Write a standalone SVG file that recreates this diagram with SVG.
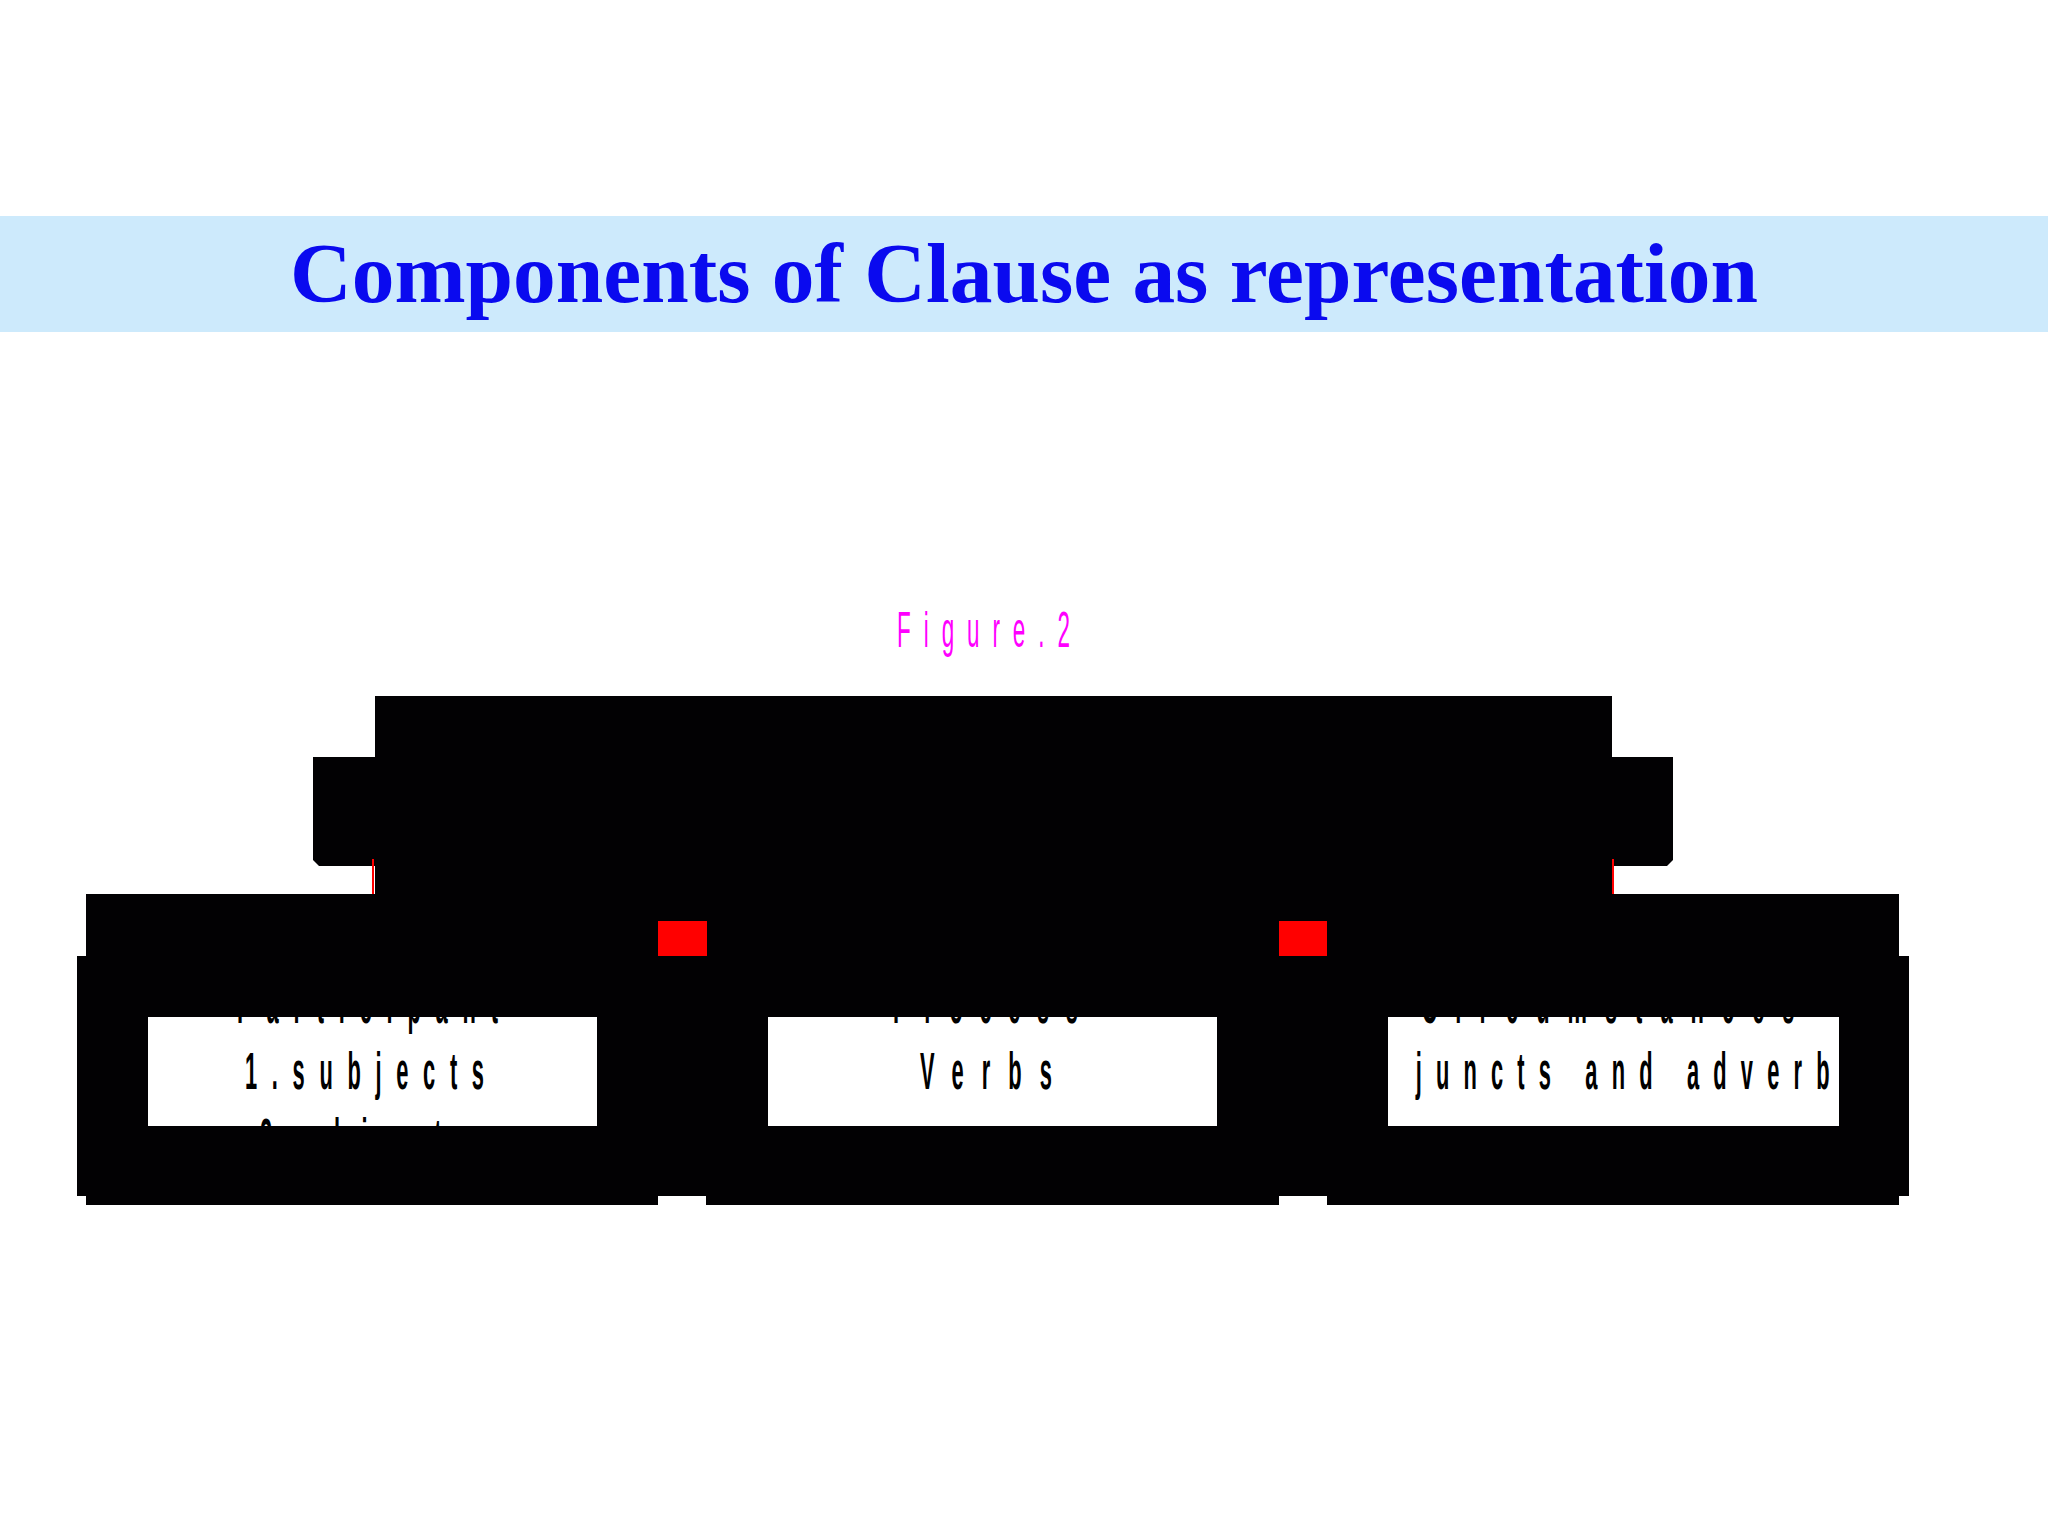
<svg xmlns="http://www.w3.org/2000/svg" width="2048" height="1536" viewBox="0 0 2048 1536">
<style>
.blk{fill:#020103}
.red{fill:#ff0000}
.wbox{fill:#ffffff}
.lbl{font-family:"Liberation Sans","Arial",sans-serif;font-size:52px;font-weight:bold;fill:#000000;text-anchor:middle}
.fig{font-family:"Liberation Sans","Arial",sans-serif;font-size:50px;fill:#ff00ff;text-anchor:middle}
.title{font-family:"Liberation Serif","Times New Roman",serif;font-size:84px;font-weight:bold;fill:#0a0aef}
</style>
<defs>
<clipPath id="c1"><rect x="148" y="1017" width="449" height="109"/></clipPath>
<clipPath id="c2"><rect x="768" y="1017" width="449" height="109"/></clipPath>
<clipPath id="c3"><rect x="1388" y="1017" width="451" height="109"/></clipPath>
<clipPath id="c3b"><rect x="1405" y="1017" width="434" height="109"/></clipPath>
</defs>
<rect x="0" y="0" width="2048" height="1536" fill="#ffffff"/>
<g id="title">
<rect x="0" y="216" width="2048" height="116" fill="#cdeafc"/>
<text class="title" x="290" y="302" textLength="1468" lengthAdjust="spacingAndGlyphs">Components of Clause as representation</text>
</g>
<g id="caption">
<text class="fig" transform="translate(983.5,647) scale(0.45,1)" x="0" y="0" textLength="384" lengthAdjust="spacing">Figure.2</text>
</g>
<g id="node-clause">
<rect class="blk" x="375" y="696" width="1237" height="200"/>
<path class="blk" d="M313 757 H375 V866 H319 L313 860 Z"/>
<path class="blk" d="M1612 757 H1673 V860 L1667 866 H1612 Z"/>
</g>
<g id="node-body">
<rect class="blk" x="86" y="894" width="1813" height="302"/>
<rect class="blk" x="77" y="956" width="1832" height="240"/>
</g>
<g id="node-participant">
<rect class="blk" x="86" y="1195" width="572" height="10"/>
<rect class="wbox" x="148" y="1017" width="449" height="109"/>
<g clip-path="url(#c1)">
<text class="lbl" transform="translate(367.5,1023) scale(0.42,1)" x="0" y="0" textLength="621" lengthAdjust="spacing">Participant</text>
<text class="lbl" transform="translate(364.5,1089) scale(0.42,1)" x="0" y="0" textLength="569" lengthAdjust="spacing">1.subjects</text>
<text class="lbl" transform="translate(364,1155) scale(0.42,1)" x="0" y="0" textLength="495" lengthAdjust="spacing">2.objects</text>
</g>
</g>
<g id="node-process">
<rect class="blk" x="706" y="1195" width="573" height="10"/>
<rect class="wbox" x="768" y="1017" width="449" height="109"/>
<g clip-path="url(#c2)">
<text class="lbl" transform="translate(985.5,1023) scale(0.42,1)" x="0" y="0" textLength="440" lengthAdjust="spacing">Process</text>
<text class="lbl" transform="translate(986,1089) scale(0.42,1)" x="0" y="0" textLength="314" lengthAdjust="spacing">Verbs</text>
</g>
</g>
<g id="node-circumstances">
<rect class="blk" x="1327" y="1195" width="572" height="10"/>
<rect class="wbox" x="1388" y="1017" width="451" height="109"/>
<g clip-path="url(#c3)">
<text class="lbl" transform="translate(1608,1023) scale(0.42,1)" x="0" y="0" textLength="888" lengthAdjust="spacing">Circumstances</text>
</g>
<g clip-path="url(#c3b)">
<text class="lbl" transform="translate(1607,1089) scale(0.42,1)" x="0" y="0" textLength="1185" lengthAdjust="spacing">Adjuncts and adverbs</text>
</g>
</g>
<g id="connectors">
<rect class="red" x="372" y="859" width="2" height="35"/>
<rect class="red" x="1612" y="859" width="2" height="35"/>
<rect class="red" x="658" y="921" width="49" height="35"/>
<rect class="red" x="1279" y="921" width="48" height="35"/>
</g>
</svg>
